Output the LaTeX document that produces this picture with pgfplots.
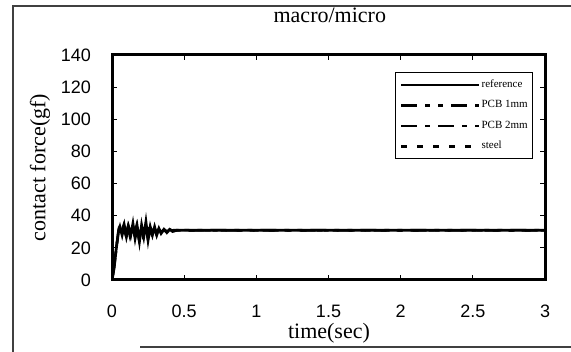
\documentclass[border=0pt]{standalone}
\usepackage{pgfplots}
\pgfplotsset{compat=1.18}
\usepackage{fontspec}
\setmainfont{Liberation Serif}
\newfontfamily\arial{Liberation Sans}
\begin{document}
\begin{tikzpicture}
\useasboundingbox (0pt,0pt) rectangle (285.5pt,176pt);
\draw[line width=0.6pt, black!75] (6.5pt,0pt) -- (6.5pt,173pt) -- (285.5pt,173pt);
\draw[line width=0.6pt, black!75] (70pt,2.5pt) -- (285.5pt,2.5pt);
\begin{axis}[
  at={(56pt,36pt)}, anchor=south west,
  width=216.5pt, height=112.5pt, scale only axis,
  xmin=0, xmax=3, ymin=0, ymax=140,
  xtick={0,0.5,1,1.5,2,2.5,3}, xticklabels={0,0.5,1,1.5,2,2.5,3},
  ytick={0,20,40,60,80,100,120,140},
  ticklabel style={font=\arial\fontsize{9}{10}\selectfont},
  /pgf/number format/assume math mode=true,
  tick align=inside, major tick length=2.5pt,
  tick style={line width=0.6pt, black},
  axis line style={line width=1.5pt},
  x tick label style={yshift=-9pt},
  y tick label style={xshift=-7pt},
  title={macro/micro},
  title style={at={(axis description cs:0.503,1.125)}, anchor=center, font=\fontsize{11}{12}\selectfont},
  xlabel={time(sec)},
  xlabel style={at={(axis description cs:0.501,-0.236)}, anchor=center, font=\fontsize{11}{12}\selectfont},
  ylabel={contact force(gf)},
  ylabel style={at={(axis description cs:-0.166,0.5)}, anchor=center, font=\fontsize{11}{12}\selectfont},
  legend style={at={(axis description cs:0.654,0.924)}, anchor=north west, draw=black, line width=0.6pt,
    font=\fontsize{5.5}{6.5}\selectfont, row sep=4pt, inner xsep=2pt, inner ysep=3pt,
    nodes={inner sep=0.5pt}, cells={anchor=west}},
  legend image code/.code={\draw[#1] (0pt,0pt) -- (39pt,0pt);},
  every axis plot/.append style={black, no marks, line width=1.2pt},
]
\addplot[solid, line width=1.4pt] coordinates {
(0,0) (0.015,8) (0.03,20) (0.045,30) (0.055,33) (0.07,28) (0.085,34) (0.10,27) (0.115,33) (0.13,28)
(0.145,35) (0.16,26) (0.175,33) (0.19,24) (0.205,34) (0.22,27) (0.235,36) (0.25,25) (0.265,33) (0.28,28)
(0.295,33) (0.31,28) (0.325,32) (0.34,29) (0.36,31.5) (0.38,29.5) (0.40,31.5) (0.42,30.2) (0.45,31)
(0.5,31) (1,31) (2,31) (3,31)};
\addlegendentry{reference}
\addplot[dash pattern=on 8pt off 4pt on 2.5pt off 4pt on 2.5pt off 4pt] coordinates {
(0,0) (0.02,12) (0.04,27) (0.05,32) (0.065,30) (0.08,34) (0.095,29) (0.11,33) (0.125,27) (0.14,33)
(0.155,29) (0.17,34) (0.185,26) (0.20,32) (0.215,29) (0.23,34) (0.245,27) (0.26,32) (0.275,29) (0.29,33)
(0.305,29) (0.32,32) (0.34,29.5) (0.36,31.5) (0.38,30.2) (0.40,31.3) (0.43,30.6) (0.5,31.1) (1,31.1) (2,31.1) (3,31.1)};
\addlegendentry{PCB 1mm}
\addplot[dash pattern=on 8pt off 4pt on 2.5pt off 4pt] coordinates {
(0,0) (0.012,6) (0.028,18) (0.042,29) (0.052,34) (0.067,30) (0.082,33) (0.097,28) (0.112,34) (0.127,29)
(0.142,32) (0.157,27) (0.172,33) (0.187,29) (0.202,33) (0.217,27) (0.232,32) (0.247,28) (0.262,34) (0.277,29)
(0.292,32) (0.307,29) (0.322,31.5) (0.34,29.8) (0.36,31.3) (0.38,30.2) (0.42,30.9) (0.5,30.8) (1,30.8) (2,30.8) (3,30.8)};
\addlegendentry{PCB 2mm}
\addplot[dash pattern=on 3pt off 5pt] coordinates {
(0,0) (0.018,10) (0.035,24) (0.048,32) (0.062,31) (0.077,34) (0.092,29) (0.107,33) (0.122,28) (0.137,33)
(0.152,29) (0.167,33) (0.182,28) (0.197,34) (0.212,28) (0.227,33) (0.242,29) (0.257,33) (0.272,29) (0.287,32)
(0.302,29.5) (0.32,31.5) (0.34,30) (0.36,31.2) (0.39,30.4) (0.43,31.1) (0.5,30.9) (1,30.9) (2,30.9) (3,30.9)};
\addlegendentry{steel}
\end{axis}
\end{tikzpicture}
\end{document}
